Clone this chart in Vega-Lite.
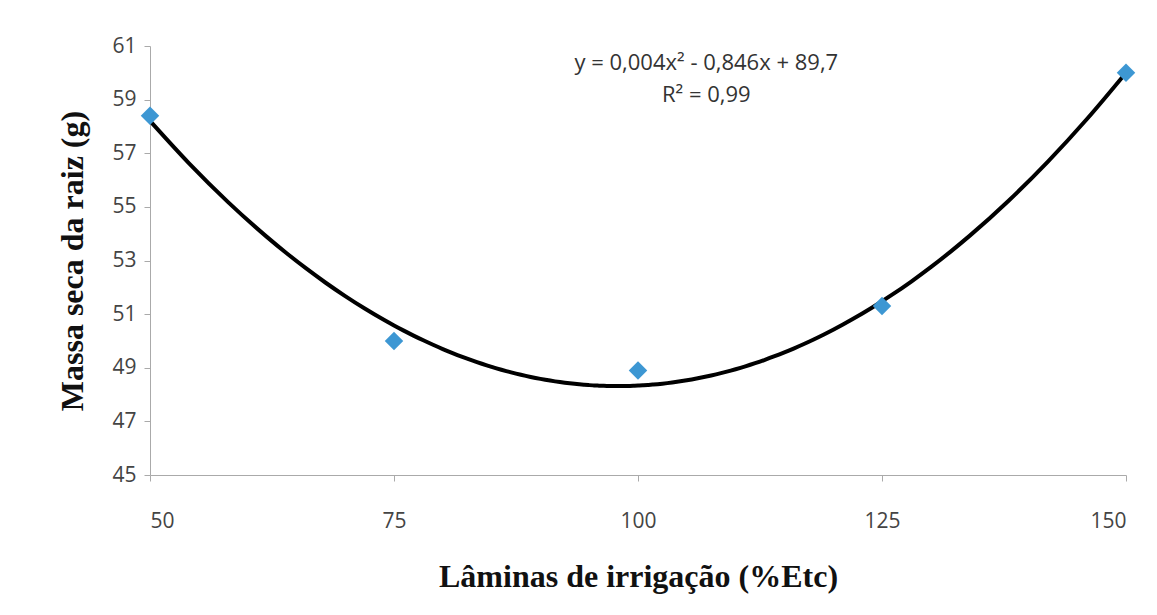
{
  "$schema": "https://vega.github.io/schema/vega-lite/v6.json",
  "autosize": {"type": "none"},
  "padding": {"left": 150, "top": 46, "right": 31, "bottom": 140},
  "width": 976,
  "height": 429,
  "background": "white",
  "config": {"view": {"stroke": null}},
  "datasets": {
    "pts": [
      {"lamina": 50, "massa": 58.4},
      {"lamina": 75, "massa": 50.0},
      {"lamina": 100, "massa": 48.9},
      {"lamina": 125, "massa": 51.3},
      {"lamina": 150, "massa": 60.0}
    ],
    "eq": [
      {"lamina": 107.0, "massa": 60.37, "txt": "y = 0,004x² - 0,846x + 89,7"},
      {"lamina": 107.0, "massa": 59.17, "txt": "R² = 0,99"}
    ]
  },
  "layer": [
    {
      "data": {"name": "pts"},
      "transform": [
        {"regression": "massa", "on": "lamina", "method": "poly", "order": 2, "extent": [50, 150]}
      ],
      "mark": {"type": "line", "color": "black", "strokeWidth": 4, "interpolate": "monotone"},
      "encoding": {
        "x": {
          "field": "lamina", "type": "quantitative",
          "scale": {"domain": [50, 150], "nice": false},
          "axis": {
            "values": [50, 75, 100, 125, 150],
            "title": "Lâminas de irrigação (%Etc)",
            "titleFont": "Liberation Serif", "titleFontSize": 32, "titleFontWeight": "bold", "titleColor": "#111",
            "titlePadding": 30,
            "labelFont": "Open Sans", "labelFontSize": 21, "labelColor": "#444", "labelPadding": 29,
            "domainColor": "#aaa", "tickColor": "#aaa", "tickSize": 6, "grid": false
          }
        },
        "y": {
          "field": "massa", "type": "quantitative",
          "scale": {"domain": [45, 61], "nice": false},
          "axis": {
            "values": [45, 47, 49, 51, 53, 55, 57, 59, 61],
            "title": "Massa seca da raiz (g)",
            "titleFont": "Liberation Serif", "titleFontSize": 32, "titleFontWeight": "bold", "titleColor": "#111",
            "titlePadding": 22,
            "labelFont": "Open Sans", "labelFontSize": 21, "labelColor": "#444", "labelPadding": 8,
            "domainColor": "#aaa", "tickColor": "#aaa", "tickSize": 6, "grid": false
          }
        }
      }
    },
    {
      "data": {"name": "pts"},
      "mark": {"type": "point", "shape": "diamond", "filled": true, "color": "#3d97d3", "size": 340, "opacity": 1},
      "encoding": {
        "x": {"field": "lamina", "type": "quantitative"},
        "y": {"field": "massa", "type": "quantitative"}
      }
    },
    {
      "data": {"name": "eq"},
      "mark": {"type": "text", "font": "Open Sans", "fontSize": 22, "color": "#333", "align": "center", "baseline": "middle"},
      "encoding": {
        "x": {"field": "lamina", "type": "quantitative"},
        "y": {"field": "massa", "type": "quantitative"},
        "text": {"field": "txt"}
      }
    }
  ]
}
